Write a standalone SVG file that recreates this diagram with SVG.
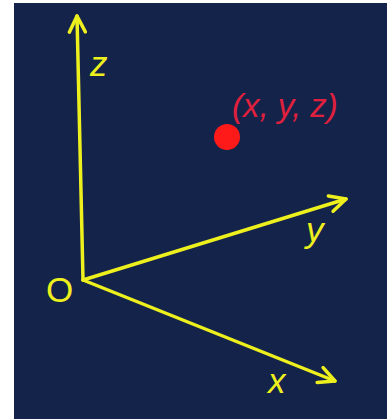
<svg xmlns="http://www.w3.org/2000/svg" width="389" height="419" viewBox="0 0 389 419">
<defs>
<style>
.axis{stroke:#eef01e;stroke-width:3.5;fill:none;stroke-linecap:round}
.lbl{fill:#eef01e;font-family:"Liberation Sans",Arial,sans-serif;font-size:35px;font-style:italic}
.org{fill:#eef01e;font-family:"Liberation Sans",Arial,sans-serif;font-size:35px}
.pt{fill:#e0203c;font-family:"Liberation Sans",Arial,sans-serif;font-size:33px;font-style:italic}
</style>
<marker id="ah" viewBox="0 0 20 20" refX="18" refY="10" markerWidth="20" markerHeight="20" markerUnits="userSpaceOnUse" orient="auto">
<path d="M2,2 L18,10 L2,18" fill="none" stroke="#eef01e" stroke-width="3.5" stroke-linecap="round" stroke-linejoin="round"/>
</marker>
</defs>
<rect x="0" y="0" width="389" height="419" fill="#ffffff"/>
<rect x="14" y="3" width="373" height="416" fill="#13234a"/>
<g id="connectors">
<line class="axis" x1="83" y1="280" x2="77" y2="16" marker-end="url(#ah)"/>
<line class="axis" x1="83" y1="280" x2="346" y2="199" marker-end="url(#ah)"/>
<line class="axis" x1="83" y1="280" x2="335" y2="381" marker-end="url(#ah)"/>
</g>
<g id="z-label"><text class="lbl" x="90" y="76">z</text></g>
<g id="y-label"><text class="lbl" x="306" y="242">y</text></g>
<g id="x-label"><text class="lbl" x="268" y="393">x</text></g>
<g id="origin"><text class="org" x="46" y="302">O</text></g>
<g id="point">
<circle cx="227" cy="137" r="13" fill="#ff1a1a"/>
<text class="pt" x="232" y="117">(x, y, z)</text>
</g>
</svg>
